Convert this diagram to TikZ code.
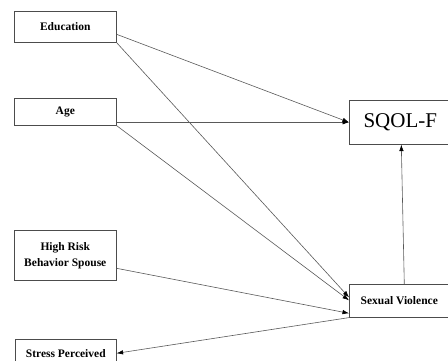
\documentclass[tikz,border=0pt]{standalone}
\usepackage{fontspec}
\setmainfont{Liberation Serif}
\usepackage{tikz}
\usetikzlibrary{arrows.meta}
\tikzstyle{var} = [rectangle, draw=black!70, line width=0.6pt, inner sep=0pt, anchor=north west, align=center, font=\fontsize{11.5}{16}\selectfont\bfseries]
\tikzstyle{outcome} = [var, font=\fontsize{21}{24}\selectfont]
\tikzstyle{arrow} = [draw=black!65, line width=0.6pt, -{Latex[length=6.5pt, width=4.5pt, black]}]

\begin{document}
\begin{tikzpicture}[x=1pt, y=-1pt]
\clip (0,0) rectangle (448,360);
\node (edu) [var, minimum width=102pt, minimum height=31pt] at (14,11) {Education};
\node (age) [var, minimum width=102pt, minimum height=27pt] at (14,98) {Age};
\node (risk) [var, minimum width=102pt, minimum height=50pt] at (14,230) {High Risk\\Behavior Spouse};
\node (stress) [var, minimum width=101pt, minimum height=28pt] at (15,339) {Stress Perceived};
\node (sqol) [outcome, minimum width=114pt, minimum height=44pt] at (349,100) {SQOL-F\hspace*{12pt}};
\node (viol) [var, minimum width=114pt, minimum height=33pt] at (349,284) {Sexual Violence\hspace*{14pt}};

\draw [arrow] ([yshift=-7.5pt]edu.east) -- (sqol.west);
\draw [arrow] (edu.south east) -- ([yshift=3.5pt]viol.west);
\draw [arrow] ([yshift=-10.5pt]age.east) -- (sqol.west);
\draw [arrow] (age.south east) -- ([yshift=0.5pt]viol.west);
\draw [arrow] ([yshift=-13pt]risk.east) -- ([yshift=-12.5pt]viol.west);
\draw [arrow] (viol.south west) -- (stress.east);
\draw [arrow] ([xshift=-2pt]viol.north) -- ([xshift=-5pt]sqol.south);
\end{tikzpicture}
\end{document}
